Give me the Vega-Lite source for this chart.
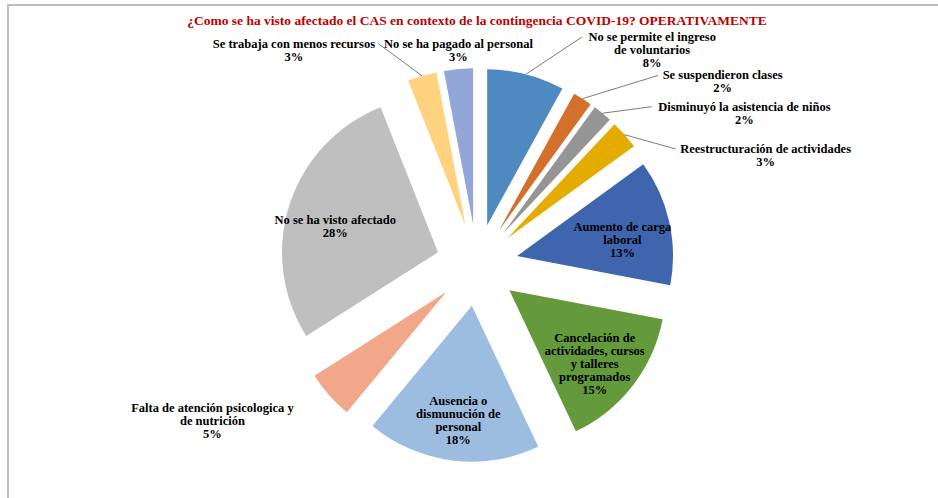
{
  "$schema": "https://vega.github.io/schema/vega-lite/v6.json",
  "width": 938,
  "height": 520,
  "autosize": "none",
  "padding": {"left": 8, "top": 5, "right": 0, "bottom": 0},
  "background": "white",
  "title": {
    "text": "¿Como se ha visto afectado el CAS en contexto de la contingencia COVID-19? OPERATIVAMENTE",
    "color": "#C00000",
    "font": "Liberation Serif",
    "fontSize": 13.5,
    "fontWeight": "bold",
    "anchor": "middle",
    "offset": -22
  },
  "config": {"view": {"stroke": "#BEBEBE", "strokeWidth": 2}},
  "data": {
    "values": [
      {"label": "No se permite el ingreso\nde voluntarios", "value": 8},
      {"label": "Se suspendieron clases", "value": 2},
      {"label": "Disminuyó la asistencia de niños", "value": 2},
      {"label": "Reestructuración de actividades", "value": 3},
      {"label": "Aumento de carga\nlaboral", "value": 13},
      {"label": "Cancelación de\nactividades, cursos\ny talleres\nprogramados", "value": 15},
      {"label": "Ausencia o\ndismunución de\npersonal", "value": 18},
      {"label": "Falta de atención psicologica y\nde nutrición", "value": 5},
      {"label": "No se ha visto afectado", "value": 28},
      {"label": "Se trabaja con menos recursos", "value": 3},
      {"label": "No se ha pagado al personal", "value": 3}
    ]
  },
  "transform": [
    {"window": [{"op": "sum", "field": "value", "as": "v1"}], "frame": [null, 0]},
    {"calculate": "datum.v1 - datum.value", "as": "v0"},
    {"calculate": "(datum.v0 + datum.v1) * PI / 100", "as": "a"},
    {"calculate": "41 * sin(datum.a)", "as": "ex"},
    {"calculate": "41 * cos(datum.a)", "as": "ey"},
    {"calculate": "datum.value >= 10", "as": "inside"},
    {"calculate": "datum.a * 180 / PI", "as": "deg"},
    {"calculate": "datum.inside || datum.deg < 10 || datum.deg > 350 ? 0 : ((cos(datum.a) > 0 ? 20 : 10) * ((datum.deg < 90 || (datum.deg > 180 && datum.deg < 270)) ? 1 : -1))", "as": "push"},
    {"calculate": "datum.a + datum.push * PI / 180", "as": "la"},
    {"calculate": "datum.inside ? 149 * sin(datum.a) : (datum.push == 0 ? 197 * sin(datum.a) : 310 * sin(datum.la))", "as": "lx"},
    {"calculate": "datum.inside ? 149 * cos(datum.a) - 8 : min(300 * cos(datum.la), 215)", "as": "ly"},
    {"calculate": "datum.label + '\\n' + datum.value + '%'", "as": "text"},
    {"calculate": "split(datum.label, '\\n')", "as": "lines"},
    {"calculate": "length(datum.lines) + 1", "as": "n"},
    {"calculate": "datum.ly + (datum.n - 1) * 6.5", "as": "ty"},
    {"calculate": "197 * sin(datum.a)", "as": "px"},
    {"calculate": "197 * cos(datum.a)", "as": "py"},
    {"calculate": "datum.lx - (sin(datum.la) > 0 ? 1 : -1) * (length(datum.lines[0]) * 2.8 + 3)", "as": "qx"},
    {"calculate": "datum.ty", "as": "qy"}
  ],
  "layer": [
    {
      "mark": {"type": "arc", "outerRadius": 156},
      "encoding": {
        "theta": {"field": "v0", "type": "quantitative", "scale": {"domain": [0, 100]}},
        "theta2": {"field": "v1"},
        "x": {"field": "ex", "type": "quantitative", "scale": {"domain": [-469, 469], "nice": false, "zero": false}, "axis": null},
        "y": {"field": "ey", "type": "quantitative", "scale": {"domain": [-260, 260], "nice": false, "zero": false}, "axis": null},
        "color": {
          "field": "label",
          "type": "nominal",
          "legend": null,
          "scale": {
            "domain": [
              "No se permite el ingreso\nde voluntarios",
              "Se suspendieron clases",
              "Disminuyó la asistencia de niños",
              "Reestructuración de actividades",
              "Aumento de carga\nlaboral",
              "Cancelación de\nactividades, cursos\ny talleres\nprogramados",
              "Ausencia o\ndismunución de\npersonal",
              "Falta de atención psicologica y\nde nutrición",
              "No se ha visto afectado",
              "Se trabaja con menos recursos",
              "No se ha pagado al personal"
            ],
            "range": ["#4E8AC0", "#D4702C", "#959595", "#E5AC00", "#3E65AE", "#649A3C", "#9DBDE0", "#F1A788", "#BFBFBF", "#FFD280", "#92A6D8"]
          }
        }
      }
    },
    {
      "transform": [{"filter": "!datum.inside && datum.push != 0 && cos(datum.la) > 0"}],
      "mark": {"type": "rule", "color": "#595959", "strokeWidth": 0.8},
      "encoding": {
        "x": {"field": "px", "type": "quantitative", "axis": null},
        "y": {"field": "py", "type": "quantitative", "axis": null},
        "x2": {"field": "qx"},
        "y2": {"field": "qy"}
      }
    },
    {
      "mark": {
        "type": "text",
        "align": "center",
        "baseline": "middle",
        "lineBreak": "\n",
        "font": "Liberation Serif",
        "fontWeight": "bold",
        "fontSize": 12.5,
        "lineHeight": 13,
        "color": "#000000"
      },
      "encoding": {
        "x": {"field": "lx", "type": "quantitative", "axis": null},
        "y": {"field": "ty", "type": "quantitative", "axis": null},
        "text": {"field": "text", "type": "nominal"}
      }
    }
  ]
}
